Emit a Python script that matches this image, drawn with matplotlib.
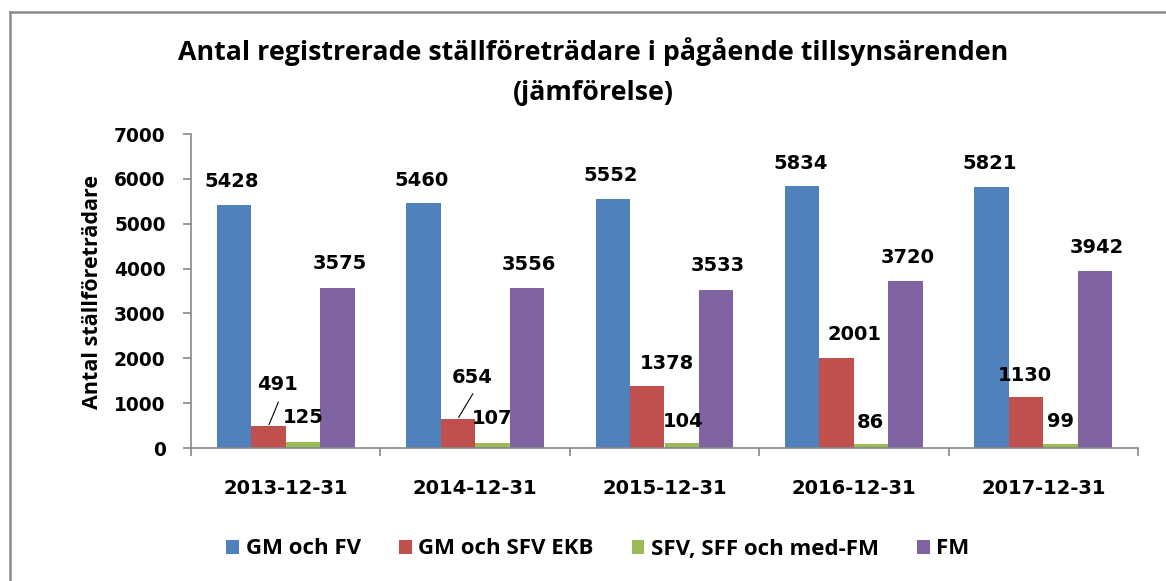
import matplotlib
matplotlib.use('Agg')
import matplotlib.pyplot as plt
from matplotlib.patches import Patch
from matplotlib.lines import Line2D
import numpy as np

# ---------------- data ----------------
categories = ['2013-12-31', '2014-12-31', '2015-12-31', '2016-12-31', '2017-12-31']
series_names = ['GM och FV', 'GM och SFV EKB', 'SFV, SFF och med-FM', 'FM']
gm_fv = [5428, 5460, 5552, 5834, 5821]
gm_sfv_ekb = [491, 654, 1378, 2001, 1130]
sfv_sff_med_fm = [125, 107, 104, 86, 99]
fm = [3575, 3556, 3533, 3720, 3942]
y_ticks = [0, 1000, 2000, 3000, 4000, 5000, 6000, 7000]
title_text = 'Antal registrerade ställföreträdare i pågående tillsynsärenden\n(jämförelse)'
ylabel_text = 'Antal ställföreträdare'

# ---------------- style ----------------
colors = ['#4F81BD', '#C0504D', '#9BBB59', '#8064A2']
# label offsets in pixels (dx, dy) from top-centre of each bar
label_off_blue = [(-2, 23)] * 5
label_off_red = [(9, 41), (14, 41), (20, 23), (18, 24), (-1, 22)]
label_off_green = [(0, 25), (0, 25), (1, 22), (-1, 22), (0, 22)]
label_off_purple = [(2, 24)] * 5
leader_red = [(10, 24), (15, 25), None, None, None]

W, H, DPI = 1166, 581, 100
PX = 72.0 / DPI  # pixel -> points

fig = plt.figure(figsize=(W / DPI, H / DPI), dpi=DPI)
fig.patch.set_facecolor('white')
ax = fig.add_axes([191 / W, 1 - 448 / H, (1138 - 191) / W, (448 - 134) / H])

series = [gm_fv, gm_sfv_ekb, sfv_sff_med_fm, fm]
offsets = [label_off_blue, label_off_red, label_off_green, label_off_purple]
x = np.arange(len(categories))
bw = 0.182
shifts = [-1.5 * bw, -0.5 * bw, 0.5 * bw, 1.5 * bw]

lab_font = dict(family='DejaVu Sans', weight='bold', size=14, color='black')

for si, (vals, col, sh, offs) in enumerate(zip(series, colors, shifts, offsets)):
    ax.bar(x + sh, vals, width=bw, color=col, edgecolor='none', zorder=2)
    for ci, v in enumerate(vals):
        dx, dy = offs[ci]
        ax.annotate(str(v), xy=(x[ci] + sh, v), xytext=(dx * PX, dy * PX),
                    textcoords='offset points', ha='center', va='center',
                    zorder=5, **lab_font)
        if si == 1 and leader_red[ci] is not None:
            lx, ly = leader_red[ci]
            ax.annotate('', xy=(x[ci] + sh, v), xytext=(lx * PX, ly * PX),
                        textcoords='offset points',
                        arrowprops=dict(arrowstyle='-', color='black', lw=0.8,
                                        shrinkA=0, shrinkB=1), zorder=5)

ax.set_xlim(-0.5, len(categories) - 0.5)
ax.set_ylim(0, 7000)
ax.set_yticks(y_ticks)
ax.set_yticklabels([str(t) for t in y_ticks], family='DejaVu Sans', weight='bold', size=13.4)
ax.set_xticks(x)
ax.set_xticklabels(categories, family='DejaVu Sans', weight='bold', size=14)
ax.set_xticks(np.arange(-0.5, len(categories)), minor=True)

axis_col = '#888888'
for s in ['top', 'right']:
    ax.spines[s].set_visible(False)
for s in ['left', 'bottom']:
    ax.spines[s].set_color(axis_col)
    ax.spines[s].set_linewidth(1.2)
ax.tick_params(axis='y', which='major', length=5.8, width=1.2, color=axis_col, pad=12.5, direction='out')
ax.tick_params(axis='x', which='major', length=0, pad=22)
ax.tick_params(axis='x', which='minor', length=5.8, width=1.2, color=axis_col, direction='out')
ax.set_facecolor('white')

# y label
fig.text(93 / W, 1 - 292 / H, ylabel_text, rotation=90, ha='center', va='center',
         family='Open Sans', weight='bold', size=15.5)

# title
fig.text(593 / W, 1 - 72 / H, title_text, ha='center', va='center', family='Open Sans',
         weight='bold', size=19.3, linespacing=1.7)

# legend
handles = [Patch(facecolor=c, edgecolor='none') for c in colors]
leg = fig.legend(handles, series_names, loc='center', ncol=4, frameon=False,
                 bbox_to_anchor=(598 / W, 1 - 549 / H), bbox_transform=fig.transFigure,
                 prop=dict(family='Open Sans', weight='bold', size=16), handlelength=0.58,
                 handleheight=0.58, handletextpad=0.3, columnspacing=1.7)

# outer frame (left and top edges visible)
fig.add_artist(Line2D([9.5 / W, 9.5 / W], [0, 1 - 12 / H], transform=fig.transFigure,
                      color='#8a8a8a', lw=1.8))
fig.add_artist(Line2D([9.5 / W, 1], [1 - 12 / H, 1 - 12 / H], transform=fig.transFigure,
                      color='#8a8a8a', lw=1.8))

fig.savefig('out.png', dpi=DPI, facecolor='white')
